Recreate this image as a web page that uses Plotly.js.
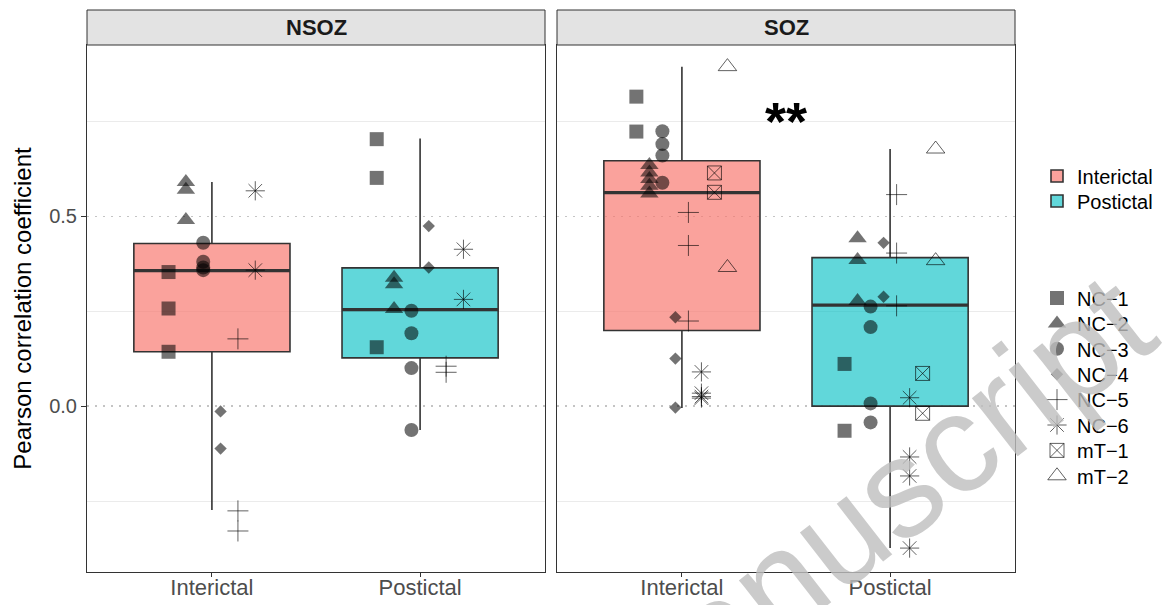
<!DOCTYPE html>
<html>
<head>
<meta charset="utf-8">
<script src="https://cdn.plot.ly/plotly-3.0.1.min.js"></script>
<style>html,body{margin:0;padding:0;background:#fff;}#chart{width:1164px;height:605px;}</style>
</head>
<body>
<div id="chart"></div>
<script>
// ---------------- data ----------------
const panels = ['NSOZ', 'SOZ'];
const conditions = ['Interictal', 'Postictal'];
const patients = ['NC-1', 'NC-2', 'NC-3', 'NC-4', 'NC-5', 'NC-6', 'mT-1', 'mT-2'];
const patientLabels = ['NC\u22121', 'NC\u22122', 'NC\u22123', 'NC\u22124', 'NC\u22125', 'NC\u22126', 'mT\u22121', 'mT\u22122'];
const panelPatientCount = [6, 8];

// per patient values (index follows patients)
const nsozInterictal = [[0.353, 0.257, 0.143], [0.59, 0.57, 0.49], [0.43, 0.38, 0.365, 0.358], [-0.014, -0.112], [0.177, -0.276, -0.329], [0.567, 0.358]];
const nsozPostictal  = [[0.703, 0.601, 0.155], [0.338, 0.321, 0.256], [0.251, 0.192, 0.1, -0.063], [0.474, 0.365], [0.105, 0.089], [0.413, 0.281]];
const sozInterictal  = [[0.815, 0.723], [0.635, 0.615, 0.598, 0.58, 0.56], [0.724, 0.69, 0.66, 0.588], [0.234, 0.125, -0.004], [0.51, 0.423, 0.224], [0.09, 0.034, 0.025, 0.021], [0.614, 0.563], [0.894, 0.365]];
const sozPostictal   = [[0.111, -0.065], [0.442, 0.385, 0.277], [0.262, 0.208, 0.007, -0.043], [0.43, 0.288], [0.557, 0.403, 0.264], [0.022, -0.134, -0.184, -0.374], [0.086, -0.019], [0.677, 0.383]];

// box statistics [Interictal, Postictal]
const nsozQ1 = [0.143, 0.127], nsozMedian = [0.357, 0.254], nsozQ3 = [0.428, 0.364], nsozLower = [-0.274, -0.063], nsozUpper = [0.59, 0.705];
const sozQ1 = [0.199, 0.0], sozMedian = [0.562, 0.266], sozQ3 = [0.646, 0.391], sozLower = [-0.005, -0.374], sozUpper = [0.894, 0.677];

const yTickVals = [0, 0.5];
const yTickText = ['0.0', '0.5'];
const yMinorVals = [-0.25, 0.25, 0.75];
const signifLabel = '**';
const signifValue = 0.75;

// ---------------- style ----------------
const FONT = 'Liberation Sans, Arial, Helvetica, sans-serif';
const fillColors = ['rgba(248,118,109,0.68)', 'rgba(0,191,196,0.62)'];
const boxWidth = 0.75, dodgeWidth = 0.5;
const ptFill = 'rgba(0,0,0,0.55)', ptLine = 'rgba(0,0,0,0.62)';
const markerStyle = [
  {symbol: 'square', size: 14, color: ptFill, line: {width: 0}},
  {symbol: 'triangle-up', size: 16, color: ptFill, line: {width: 0}},
  {symbol: 'circle', size: 14, color: ptFill, line: {width: 0}},
  {symbol: 'diamond', size: 9.5, color: ptFill, line: {width: 0}},
  {symbol: 'cross-thin', size: 15, color: ptLine, line: {width: 1, color: ptLine}},
  {symbol: 'asterisk', size: 16, color: ptLine, line: {width: 1, color: ptLine}},
  {symbol: 'square-x-open', size: 14, color: ptLine, line: {width: 1, color: ptLine}},
  {symbol: 'triangle-up-open', size: 16, color: ptLine, line: {width: 1, color: ptLine}}
];

const panelData = [[nsozInterictal, nsozPostictal], [sozInterictal, sozPostictal]];
const panelStats = [
  {q1: nsozQ1, median: nsozMedian, q3: nsozQ3, lower: nsozLower, upper: nsozUpper},
  {q1: sozQ1, median: sozMedian, q3: sozQ3, lower: sozLower, upper: sozUpper}
];

const traces = [];
// boxes
panels.forEach((p, pi) => {
  const xa = pi === 0 ? 'x' : 'x2', ya = pi === 0 ? 'y' : 'y2';
  const st = panelStats[pi];
  conditions.forEach((c, ci) => {
    traces.push({
      type: 'box', name: c, x: [ci], q1: [st.q1[ci]], median: [st.median[ci]], q3: [st.q3[ci]],
      lowerfence: [st.lower[ci]], upperfence: [st.upper[ci]], boxpoints: false,
      width: boxWidth, whiskerwidth: 0, fillcolor: fillColors[ci],
      line: {color: '#333333', width: 1.6}, xaxis: xa, yaxis: ya,
      legendgroup: c, showlegend: pi === 0, legend: ci === 0 ? 'legend' : 'legend2', hoverinfo: 'skip'
    });
  });
});
// thick median lines
panels.forEach((p, pi) => {
  const xa = pi === 0 ? 'x' : 'x2', ya = pi === 0 ? 'y' : 'y2';
  const st = panelStats[pi];
  conditions.forEach((c, ci) => {
    traces.push({
      type: 'scatter', mode: 'lines', x: [ci - boxWidth / 2, ci + boxWidth / 2], y: [st.median[ci], st.median[ci]],
      line: {color: '#333333', width: 3.2}, xaxis: xa, yaxis: ya, showlegend: false, hoverinfo: 'skip'
    });
  });
});
// points, dodged by patient
const shown = {};
panels.forEach((p, pi) => {
  const xa = pi === 0 ? 'x' : 'x2', ya = pi === 0 ? 'y' : 'y2';
  const n = panelPatientCount[pi];
  for (let i = 0; i < n; i++) {
    const xs = [], ys = [];
    conditions.forEach((c, ci) => {
      const vals = panelData[pi][ci][i];
      const xpos = ci + (i - (n - 1) / 2) * dodgeWidth / n;
      vals.forEach(v => { xs.push(xpos); ys.push(v); });
    });
    const first = !shown[i];
    shown[i] = true;
    traces.push({
      type: 'scatter', mode: 'markers', name: patientLabels[i], x: xs, y: ys,
      marker: markerStyle[i], xaxis: xa, yaxis: ya, legendgroup: patients[i],
      showlegend: first, legend: 'legend' + (i + 3), hoverinfo: 'y'
    });
  }
});

// ---------------- layout ----------------
const plotTop = 45, plotH = 527, leftM = 87, plotW = 928;
const py = v => 1 - (v - plotTop) / plotH;
const px = v => (v - leftM) / plotW;
const legendX = px(1037);
const legendLayouts = {};
const boxLegendY = [176, 201];
boxLegendY.forEach((yy, k) => {
  legendLayouts[k === 0 ? 'legend' : 'legend2'] = {x: legendX, xanchor: 'left', y: py(yy), yanchor: 'middle',
    font: {family: FONT, size: 20, color: '#000'}, bgcolor: 'rgba(0,0,0,0)', borderwidth: 0};
});
patients.forEach((pt, i) => {
  legendLayouts['legend' + (i + 3)] = {x: legendX, xanchor: 'left', y: py(298 + i * 25.4), yanchor: 'middle',
    font: {family: FONT, size: 20, color: '#000'}, bgcolor: 'rgba(0,0,0,0)', borderwidth: 0};
});

const xCommon = {
  range: [-0.6, 1.6], tickvals: [0, 1], ticktext: conditions, showgrid: false, zeroline: false,
  showline: true, mirror: true, linecolor: '#333333', linewidth: 1,
  ticks: 'outside', ticklen: 4, tickcolor: '#333333', tickwidth: 1, ticklabelstandoff: -8,
  tickfont: {family: FONT, size: 22, color: '#4d4d4d'}, fixedrange: true
};
const yCommon = {
  range: [-0.437, 0.951], tickvals: yTickVals, ticktext: yTickText, zeroline: false,
  showgrid: true, gridcolor: '#c4c4c4', gridwidth: 1.3, griddash: '2px,6px',
  minor: {tickvals: yMinorVals, showgrid: true, gridcolor: '#ebebeb', gridwidth: 1, griddash: 'solid', ticks: ''},
  showline: true, mirror: true, linecolor: '#333333', linewidth: 1, fixedrange: true
};

const layout = Object.assign({
  width: 1164, height: 605,
  margin: {l: leftM, r: 1164 - leftM - plotW, t: plotTop, b: 605 - plotTop - plotH, autoexpand: false},
  paper_bgcolor: '#fff', plot_bgcolor: '#fff',
  font: {family: FONT, color: '#000'},
  boxmode: 'overlay',
  xaxis: Object.assign({}, xCommon, {domain: [0, px(545)], anchor: 'y'}),
  xaxis2: Object.assign({}, xCommon, {domain: [px(557), 1], anchor: 'y2'}),
  yaxis: Object.assign({}, yCommon, {anchor: 'x', ticks: 'outside', ticklen: 5, tickcolor: '#333333',
    tickfont: {family: FONT, size: 20, color: '#4d4d4d'},
    title: {text: 'Pearson correlation coefficient', font: {family: FONT, size: 24, color: '#000'}, standoff: 10}}),
  yaxis2: Object.assign({}, yCommon, {anchor: 'x2', matches: 'y', showticklabels: false, ticks: ''}),
  shapes: ['x', 'x2'].map(xr => ({
    type: 'rect', xref: xr + ' domain', yref: 'paper', x0: 0, x1: 1, y0: 1, y1: 1 + 35 / plotH,
    fillcolor: '#e3e3e3', line: {color: '#333333', width: 1}, layer: 'above'
  })),
  annotations: [
    ...panels.map((p, pi) => ({
      text: '<b>' + p + '</b>', xref: (pi === 0 ? 'x' : 'x2') + ' domain', yref: 'paper',
      x: 0.5, y: 1 + 17.5 / plotH, xanchor: 'center', yanchor: 'middle', showarrow: false,
      font: {family: FONT, size: 22, color: '#1a1a1a'}
    })),
    {text: '<b>' + signifLabel + '</b>', xref: 'x2', yref: 'y2', x: 0.5, y: signifValue, showarrow: false,
      xanchor: 'center', yanchor: 'middle', font: {family: FONT, size: 54, color: '#000'}},
    {text: 'manuscript', xref: 'paper', yref: 'paper', x: px(863), y: py(515), showarrow: false,
      textangle: -38, xanchor: 'center', yanchor: 'middle', font: {family: FONT, size: 140, color: 'rgba(190,190,190,0.8)'}}
  ]
}, legendLayouts);

Plotly.newPlot('chart', traces, layout, {displayModeBar: false, staticPlot: true});
</script>
</body>
</html>
